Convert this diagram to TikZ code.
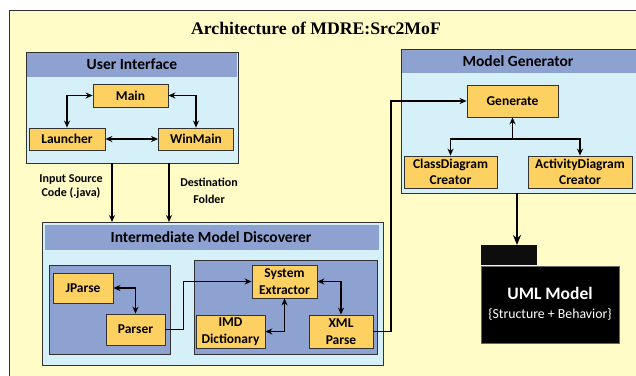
\documentclass[tikz,border=0pt]{standalone}
\usepackage{fontspec}
\setmainfont{Carlito}
\newfontfamily\titlefont{Liberation Serif}
\usetikzlibrary{arrows.meta}

\definecolor{paper}{RGB}{255,252,200}
\definecolor{band}{RGB}{142,162,210}
\definecolor{pane}{RGB}{214,240,250}
\definecolor{unit}{RGB}{253,208,98}
\definecolor{edge}{RGB}{50,50,50}

\tikzset{
    blk/.style={draw=edge,fill=unit,thick,font=\bfseries\fontsize{13.5}{16.5}\selectfont,align=center,inner sep=0pt},
    lnk/.style={line width=1.3pt,-{Stealth[length=7pt,width=6pt]}},
    dlnk/.style={line width=1.3pt,{Stealth[length=7pt,width=6pt]}-{Stealth[length=7pt,width=6pt]}}
}

\begin{document}
\begin{tikzpicture}[x=1pt,y=-1pt]
            \useasboundingbox (0,0) rectangle (636,375);
            \clip (0,0) rectangle (636,375);

            % sheet
            \draw[fill=paper,draw=edge,thick] (9,10) rectangle (645,385);
            \node[font=\titlefont\bfseries\fontsize{17.7}{20}\selectfont] (title) at (316,28) {Architecture of MDRE:Src2MoF};

            % User Interface
            \draw[fill=pane,draw=edge] (26,52) rectangle (238,163);
            \fill[band] (27,53) rectangle (237,77);
            \node[font=\bfseries\fontsize{15.5}{16}\selectfont] (uititle) at (132,64.5) {User Interface};
            \node[blk,minimum width=75,minimum height=23] (main) at (130.5,95.5) {Main};
            \node[blk,minimum width=76,minimum height=22] (launcher) at (67,139) {Launcher};
            \node[blk,minimum width=75,minimum height=22] (winmain) at (196,139) {WinMain};
            \draw[dlnk] (main.west) -| (launcher.north);
            \draw[dlnk] (main.east) -| (winmain.north);
            \draw[dlnk] (launcher) -- (winmain);

            % inputs
            \coordinate (srcA) at (112,163);
            \coordinate (srcB) at (169,163);
            \node[font=\bfseries\fontsize{12}{14}\selectfont,align=center] (srclbl) at (71,187) {Input Source\\Code (.java)};
            \node[font=\bfseries\fontsize{12}{17}\selectfont,align=center] (dstlbl) at (209,190.5) {Destination\\Folder};

            % Intermediate Model Discoverer
            \draw[fill=pane,draw=edge] (42,222) rectangle (383,365);
            \fill[band] (45,225) rectangle (379,250);
            \node[font=\bfseries\fontsize{15.5}{16}\selectfont] (imdtitle) at (211,237.5) {Intermediate Model Discoverer};
            \draw[lnk] (srcA) -- (112,222);
            \draw[lnk] (srcB) -- (169,222);

            \draw[fill=band,draw=edge,thick] (49,265) rectangle (170,354);
            \draw[fill=band,draw=edge,thick] (194,260) rectangle (377,354);
            \node[blk,minimum width=60,minimum height=30] (jparse) at (83,288) {JParse};
            \node[blk,minimum width=59,minimum height=31] (parser) at (135.5,329.5) {Parser};
            \node[blk,minimum width=65,minimum height=33] (sysext) at (284.5,281.5) {System\\Extractor};
            \node[blk,minimum width=69,minimum height=33] (imddict) at (230.5,331.5) {IMD\\Dictionary};
            \node[blk,minimum width=64,minimum height=33] (xmlparse) at (341,331.5) {XML\\Parse};
            \draw[dlnk] (jparse.east) -| (parser.north);
            \draw[lnk] (parser.east) -- ++(18,0) |- (sysext.west);
            \draw[dlnk] (sysext.south) |- (imddict.east);
            \draw[dlnk] (sysext.east) -| (xmlparse.north);

            % Model Generator
            \draw[fill=pane,draw=edge] (401,49) rectangle (640,193);
            \fill[band] (402,50) rectangle (640,73);
            \node[font=\bfseries\fontsize{15.5}{16}\selectfont] (mgtitle) at (518,61.5) {Model Generator};
            \node[blk,minimum width=91,minimum height=32] (generate) at (512.5,101) {Generate};
            \node[blk,minimum width=93,minimum height=32] (cdc) at (450.5,172) {ClassDiagram\\Creator};
            \node[blk,minimum width=104,minimum height=32] (adc) at (580,172) {ActivityDiagram\\Creator};
            \coordinate (fork) at (512.5,139);
            \draw[lnk] (fork) -- (generate);
            \draw[lnk] (fork) -| (cdc.north);
            \draw[lnk] (fork) -| (adc.north);

            \coordinate (bend) at (391,101);
            \draw[lnk] (xmlparse.east) -| (bend) -- (generate.west);

            % UML Model package
            \fill[black!95] (481,245) rectangle (537,265);
            \node[draw=black!60,fill=black,minimum width=138,minimum height=77,inner sep=0pt] (uml) at (550,304.5) {};
            \node[text=white,font=\bfseries\fontsize{17.5}{18}\selectfont] (umlname) at (550,293) {UML Model};
            \node[text=white,font=\fontsize{13.8}{14}\selectfont] (umlsub) at (550,314) {\{Structure + Behavior\}};
            \draw[line width=2.2pt,-{Stealth[length=10pt,width=8pt]}] (517,193) -- (517,245);
        \end{tikzpicture}
\end{document}
